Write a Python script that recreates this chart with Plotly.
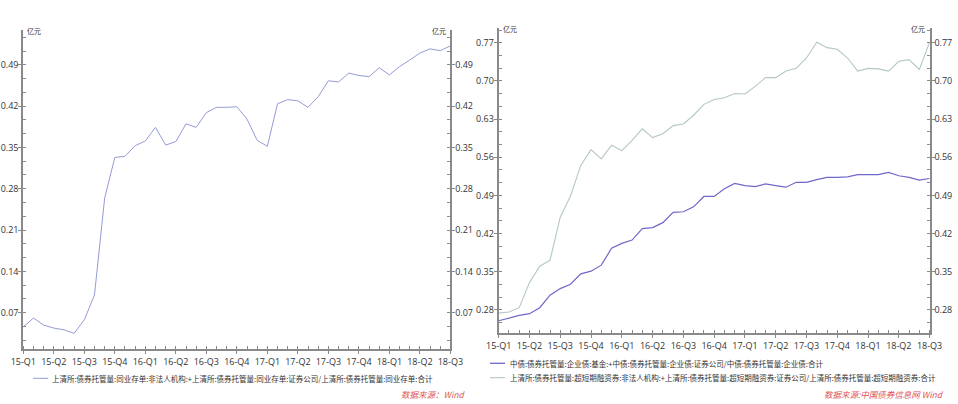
import plotly.graph_objects as go

# ---------------- data ----------------
months = [f"{y}-{m:02d}" for y in (2015, 2016, 2017, 2018) for m in range(1, 13)][:43]
quarters = ["15-Q1", "15-Q2", "15-Q3", "15-Q4", "16-Q1", "16-Q2", "16-Q3", "16-Q4",
            "17-Q1", "17-Q2", "17-Q3", "17-Q4", "18-Q1", "18-Q2", "18-Q3"]
quarter_months = ["2015-01", "2015-04", "2015-07", "2015-10", "2016-01", "2016-04",
                  "2016-07", "2016-10", "2017-01", "2017-04", "2017-07", "2017-10",
                  "2018-01", "2018-04", "2018-07"]

ncd_ratio = [0.046, 0.061, 0.049, 0.044, 0.041, 0.035, 0.058, 0.100, 0.264, 0.333,
             0.335, 0.353, 0.361, 0.384, 0.354, 0.360, 0.390, 0.384, 0.409, 0.418,
             0.418, 0.419, 0.398, 0.362, 0.352, 0.424, 0.431, 0.429, 0.418, 0.436,
             0.463, 0.461, 0.476, 0.472, 0.470, 0.485, 0.473, 0.487, 0.498, 0.510,
             0.517, 0.514, 0.522]

corp_ratio = [0.260, 0.265, 0.270, 0.273, 0.284, 0.307, 0.319, 0.327, 0.346, 0.351,
              0.362, 0.393, 0.402, 0.408, 0.429, 0.431, 0.440, 0.459, 0.460, 0.469,
              0.488, 0.488, 0.502, 0.512, 0.508, 0.506, 0.511, 0.508, 0.505, 0.514,
              0.514, 0.519, 0.523, 0.523, 0.524, 0.528, 0.528, 0.528, 0.532, 0.526,
              0.523, 0.518, 0.521]

scp_ratio = [0.274, 0.276, 0.284, 0.330, 0.360, 0.371, 0.450, 0.489, 0.545, 0.574,
             0.557, 0.582, 0.572, 0.591, 0.612, 0.596, 0.603, 0.618, 0.621, 0.637,
             0.657, 0.666, 0.669, 0.677, 0.676, 0.690, 0.706, 0.706, 0.718, 0.723,
             0.742, 0.771, 0.761, 0.758, 0.742, 0.718, 0.723, 0.722, 0.718, 0.736,
             0.739, 0.721, 0.771]

left_ticks = [0.07, 0.14, 0.21, 0.28, 0.35, 0.42, 0.49]
right_ticks = [0.28, 0.35, 0.42, 0.49, 0.56, 0.63, 0.70, 0.77]

name_ncd = "上清所:债券托管量:同业存单:非法人机构:+上清所:债券托管量:同业存单:证券公司/上清所:债券托管量:同业存单:合计"
name_corp = "中债:债券托管量:企业债:基金:+中债:债券托管量:企业债:证券公司/中债:债券托管量:企业债:合计"
name_scp = "上清所:债券托管量:超短期融资券:非法人机构:+上清所:债券托管量:超短期融资券:证券公司/上清所:债券托管量:超短期融资券:合计"

# ---------------- figure ----------------
W, H = 958, 404
xidx = list(range(len(months)))
qpos = [months.index(q) for q in quarter_months]

AX = "#8a8a8a"
TXT = "#333333"
FONT = "Open Sans, sans-serif"
CJK = "Noto Sans CJK SC"
C_NCD = "#959bd6"
C_CORP = "#7068c8"
C_SCP = "#b4c8c3"

fig = go.Figure()
fig.add_trace(go.Scatter(x=xidx, y=ncd_ratio, mode="lines", name=name_ncd,
                         line=dict(color=C_NCD, width=1), xaxis="x", yaxis="y"))
fig.add_trace(go.Scatter(x=[None], y=[None], mode="lines",
                         hoverinfo="skip", xaxis="x", yaxis="y2"))
fig.add_trace(go.Scatter(x=xidx, y=corp_ratio, mode="lines", name=name_corp,
                         line=dict(color=C_CORP, width=1.2), xaxis="x2", yaxis="y3"))
fig.add_trace(go.Scatter(x=xidx, y=scp_ratio, mode="lines", name=name_scp,
                         line=dict(color=C_SCP, width=1.1), xaxis="x2", yaxis="y3"))
fig.add_trace(go.Scatter(x=[None], y=[None], mode="lines",
                         hoverinfo="skip", xaxis="x2", yaxis="y4"))


def xax(domain, anchor):
    return dict(domain=domain, anchor=anchor, range=[0, len(months) - 1],
                tickmode="array", tickvals=qpos, ticktext=quarters, automargin=False,
                showline=True, linecolor=AX, linewidth=2, ticks="outside",
                ticklen=3, tickcolor=AX, tickwidth=1, showgrid=False, zeroline=False,
                tickfont=dict(family=FONT, size=9, color=TXT),
                minor=dict(tickmode="linear", tick0=0, dtick=1, ticks="inside",
                           ticklen=3, tickcolor=AX, showgrid=False))


def yax(domain, anchor, rng, ticks, side="left", overlay=None):
    d = dict(domain=domain, anchor=anchor, range=rng, side=side, automargin=False,
             tickmode="array", tickvals=ticks, tickformat=".2f",
             showline=True, linecolor=AX, linewidth=2, ticks="outside",
             ticklen=3, tickcolor=AX, tickwidth=1, showgrid=False, zeroline=False,
             ticklabelstandoff=-2,
             tickfont=dict(family=FONT, size=9, color=TXT),
             minor=dict(tickmode="linear", tick0=ticks[0], dtick=0.07 / 3,
                        ticks="inside", ticklen=3, tickcolor=AX, showgrid=False))
    if overlay:
        d["overlaying"] = overlay
    return d


ldom_x = [23.3 / W, 450.4 / W]
ldom_y = [1 - 349.3 / H, 1 - 30 / H]
rdom_x = [498.7 / W, 929.6 / W]
rdom_y = [1 - 333.3 / H, 1 - 28.3 / H]
lrange = [0.008, 0.549]
rrange = [0.237, 0.7965]

fig.update_layout(
    width=W, height=H,
    margin=dict(l=0, r=0, t=0, b=0, autoexpand=False),
    paper_bgcolor="white", plot_bgcolor="white",
    font=dict(family=FONT, color=TXT),
    showlegend=False,
    xaxis=xax(ldom_x, "y"),
    yaxis=yax(ldom_y, "x", lrange, left_ticks),
    yaxis2=yax(ldom_y, "x", lrange, left_ticks, side="right", overlay="y"),
    xaxis2=xax(rdom_x, "y3"),
    yaxis3=yax(rdom_y, "x2", rrange, right_ticks),
    yaxis4=yax(rdom_y, "x2", rrange, right_ticks, side="right", overlay="y3"),
)

# legend entries (line sample + text), drawn as shapes/annotations
legend_rows = [
    (33, 48, 50, 378.3, C_NCD, 1, name_ncd),
    (490, 505, 508, 363.3, C_CORP, 1.3, name_corp),
    (490, 505, 508, 377.7, C_SCP, 1.1, name_scp),
]
shapes = []
unit_font = dict(family=CJK, size=7, color=TXT)
src_font = dict(family=CJK, size=8.5, color="#e05555")
leg_font = dict(family=CJK, size=7.5, color=TXT)
annots = []
for x0, x1, xt, yy, col, lw, txt in legend_rows:
    shapes.append(dict(type="line", xref="paper", yref="paper",
                       x0=x0 / W, x1=x1 / W, y0=1 - yy / H, y1=1 - yy / H,
                       line=dict(color=col, width=lw)))
    annots.append(dict(text=txt, x=xt / W, y=1 - yy / H, xanchor="left",
                       yanchor="middle", font=leg_font))

annots += [
    dict(text="亿元", x=25 / W, y=1 - 31 / H, xanchor="left", yanchor="middle", font=unit_font),
    dict(text="亿元", x=448 / W, y=1 - 31 / H, xanchor="right", yanchor="middle", font=unit_font),
    dict(text="亿元", x=501 / W, y=1 - 29 / H, xanchor="left", yanchor="middle", font=unit_font),
    dict(text="亿元", x=927 / W, y=1 - 29 / H, xanchor="right", yanchor="middle", font=unit_font),
    dict(text="<i>数据来源：Wind</i>", x=467 / W, y=1 - 394 / H, xanchor="right",
         yanchor="middle", font=src_font),
    dict(text="<i>数据来源:中国债券信息网 Wind</i>", x=946 / W, y=1 - 394 / H,
         xanchor="right", yanchor="middle", font=src_font),
]
for a in annots:
    a.update(xref="paper", yref="paper", showarrow=False)
fig.update_layout(annotations=annots, shapes=shapes)

fig.write_html("out.html",
               config={"displayModeBar": False},
               post_script="document.body.style.margin='0px';"
                           "document.body.style.overflow='hidden';")
